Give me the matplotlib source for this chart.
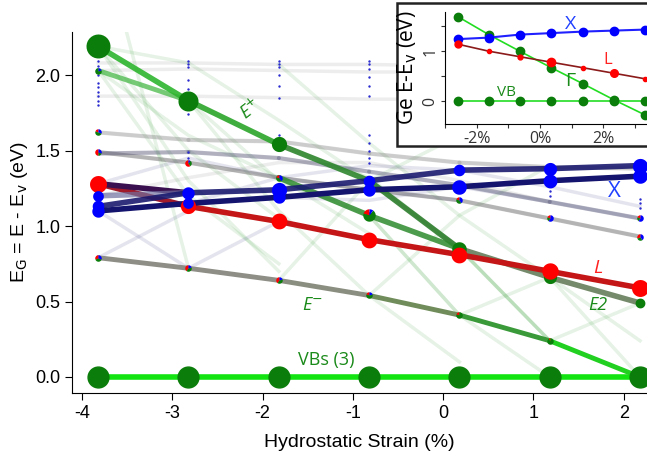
import numpy as np
import matplotlib.pyplot as plt
from matplotlib.patches import Rectangle

nan = np.nan

# strain columns (%)
strain = [-3.82, -2.82, -1.82, -0.82, 0.18, 1.18, 2.18]

# bold tracked bands (eV)
vb = [0, 0, 0, 0, 0, 0, 0]
e_plus = [2.19, 1.83, 1.54, 1.30, 0.85, 0.66, 0.49]
e_plus_b = [2.03, 1.83, nan, nan, nan, nan, nan]
e_two = [nan, nan, 1.32, 1.07, 0.85, nan, nan]
e_minus = [0.79, 0.72, 0.64, 0.54, 0.41, 0.24, 0.0]
l_band = [1.28, 1.13, 1.03, 0.91, 0.81, 0.70, 0.59]
x_low = [1.10, 1.15, 1.19, 1.24, 1.26, 1.30, 1.33]
x_high = [1.13, 1.22, 1.24, 1.30, 1.37, 1.38, 1.40]
x_mix = [1.28, 1.22, nan, nan, nan, nan, nan]
x_side = [1.20, 1.22, nan, nan, nan, nan, nan]

# faint connections
faint_green = [
    [2.19, 2.08, nan, nan, nan, nan, nan],
    [2.19, 1.50, 1.05, nan, nan, nan, nan],
    [2.19, 1.30, 0.70, nan, nan, nan, nan],
    [2.03, 1.60, 1.32, 0.95, nan, nan, nan],
    [2.03, 1.20, 0.75, nan, nan, nan, nan],
    [3.00, 0.72, nan, nan, nan, nan, nan],
    [nan, 2.08, 1.70, 1.30, 0.85, nan, nan],
    [nan, 1.83, 1.30, 1.07, 0.41, nan, nan],
    [nan, 1.83, 1.10, 0.54, 0.10, nan, nan],
    [nan, nan, 2.07, 1.55, 1.07, 0.66, 0.24],
    [nan, nan, 1.54, 1.32, 0.85, 0.24, 0.0],
    [nan, nan, 0.64, 1.30, 1.60, nan, nan],
    [nan, nan, nan, 1.30, 0.85, 0.24, 0.0],
    [nan, nan, nan, 1.07, 0.41, 0.0, nan],
    [nan, nan, nan, nan, 0.85, 0.24, nan],
    [nan, nan, nan, nan, 0.41, 0.66, nan],
    [nan, nan, nan, nan, nan, 0.24, 0.49],
    [nan, nan, nan, nan, nan, 0.66, 0.0],
    [nan, nan, nan, 0.54, 1.07, 1.40, nan],
]
faint_gray = [
    [2.08, 2.08, 2.07, 2.07, 2.06, 2.06, 2.06],
    [2.03, 2.04, 2.03, 2.02, 2.02, 2.01, 2.01],
    [1.86, 1.86, 1.85, 1.84, 1.84, 1.84, 1.84],
    [1.62, 1.57, 1.56, 1.48, 1.42, 1.39, 1.38],
    [1.49, 1.42, 1.32, 1.24, 1.17, 1.05, 0.93],
    [1.48, 1.49, 1.45, 1.36, 1.27, 1.16, 1.05],
    [1.20, 1.32, 1.42, 1.42, 1.30, 1.16, nan],
]
faint_blue = [
    [1.28, 1.45, 1.32, 1.24, 1.17, nan, nan],
    [nan, 1.15, 1.32, 1.40, 1.37, 1.26, 1.13],
    [nan, nan, 1.19, 1.17, 1.26, 1.16, 1.05],
    [0.79, 1.10, nan, nan, nan, nan, nan],
    [1.10, 0.72, 1.03, nan, nan, nan, nan],
]

# small blue dots (higher bands) per column
dot_col = [0] * 9 + [1] * 10 + [2] * 8 + [3] * 11 + [5] * 2 + [6] * 3
dot_val = [2.09, 2.06, 2.00, 1.95, 1.92, 1.89, 1.86, 1.83, 1.80,
           2.09, 2.07, 2.05, 1.97, 1.91, 1.86, 1.78, 1.74, 1.49, 1.45,
           2.09, 2.07, 2.05, 2.00, 1.93, 1.85, 1.60, 1.57,
           2.09, 2.07, 2.04, 1.99, 1.93, 1.86, 1.60, 1.55, 1.50, 1.45, 1.42,
           1.23, 1.20,
           1.18, 1.15, 1.12]

# mixed-character nodes: column, energy, (red, green, blue) weights
mix_col = [0, 0, 0, 1, 1, 2, 3, 4, 5, 6, 3, 2, 6, 0, 4, 5, 6, 3]
mix_val = [0.79, 1.49, 1.62, 0.72, 1.42, 0.64, 0.54, 0.41, 0.24, 0.49,
           1.07, 1.32, 0.93, 2.03, 1.17, 1.05, 1.05, 1.30]
mix_w = [(0.3, 0.4, 0.3), (0.5, 0.2, 0.3), (0.2, 0.5, 0.3), (0.4, 0.4, 0.2),
         (0.6, 0.3, 0.1), (0.4, 0.4, 0.2), (0.2, 0.6, 0.2), (0.2, 0.8, 0.0),
         (0.1, 0.9, 0.0), (0.35, 0.65, 0.0), (0.15, 0.75, 0.1), (0.2, 0.4, 0.4),
         (0.3, 0.3, 0.4), (0.0, 0.8, 0.2), (0.2, 0.4, 0.4), (0.2, 0.2, 0.6),
         (0.2, 0.2, 0.6), (0.0, 0.7, 0.3)]

# inset data (Ge)
in_strain = [-2.6, -1.62, -0.64, 0.36, 1.36, 2.34, 3.32]
in_gamma = [1.69, 1.33, 1.00, 0.67, 0.35, 0.03, -0.27]
in_x = [1.24, 1.27, 1.33, 1.36, 1.39, 1.41, 1.43]
in_l = [1.14, 1.00, 0.89, 0.78, 0.67, 0.56, 0.45]
in_vb = [0, 0, 0, 0, 0, 0, 0]

RED, GRN, BLU = '#ff0000', '#0a7d0a', '#0000ff'
ANNO = ['Open Sans', 'DejaVu Sans']


def pie(ax, x, y, w, s, z=6):
    start = 0.25
    for f, c in zip(w, (RED, GRN, BLU)):
        if f <= 0:
            continue
        th = 2 * np.pi * np.linspace(start, start + f, 30)
        v = np.column_stack([np.r_[0, np.cos(th)], np.r_[0, np.sin(th)]])
        m = np.abs(v).max()
        ax.scatter([x], [y], marker=v, s=s * m ** 2, c=c, lw=0, zorder=z)
        start += f


def seg_line(ax, xs, ys, colors, lw, alpha=1.0, z=3):
    for i in range(len(xs) - 1):
        if np.isnan(ys[i]) or np.isnan(ys[i + 1]):
            continue
        ax.plot(xs[i:i + 2], ys[i:i + 2], color=colors[i], lw=lw, alpha=alpha,
                solid_capstyle='round', zorder=z)


plt.rcParams['font.family'] = ['Liberation Sans', 'DejaVu Sans']
plt.rcParams['axes.unicode_minus'] = False
fig = plt.figure(figsize=(6.47, 4.54), dpi=100)
ax = fig.add_axes([72 / 647, 61 / 454, 575 / 647, 361 / 454])

for ys in faint_green:
    ax.plot(strain, ys, color='#3aa03a', lw=2.5, alpha=0.13, zorder=1)
for ys in faint_gray:
    ax.plot(strain, ys, color='#707070', lw=2.5, alpha=0.12, zorder=1)
for ys in faint_blue:
    ax.plot(strain, ys, color='#505090', lw=2.5, alpha=0.15, zorder=1)
seg_line(ax, strain, faint_gray[3], ['#808080'] * 6, 3, 0.3, 2)
seg_line(ax, strain, faint_gray[4], ['#606060'] * 6, 3, 0.4, 2)
seg_line(ax, strain, faint_gray[5], ['#55557a'] * 6, 3, 0.4, 2)

# bold bands
ax.plot(strain, vb, color='#11e411', lw=4, zorder=3)
seg_line(ax, strain, e_minus, ['#8e8e86', '#8e8e86', '#8a8e80', '#6f8c5a',
                               '#3a9a3a', '#22d022'], 3.5)
seg_line(ax, strain, e_plus_b, ['#3cb43c'], 3.5, 0.7)
seg_line(ax, strain, e_plus, ['#2db52d', '#2aa52a', '#2e862e', '#2e7e2e',
                              '#667d5a', '#667d5a'], 4, 0.9)
seg_line(ax, strain, e_two, ['#3a9a3a', '#2e8b2e', '#2e8b2e', '#2e8b2e'], 4, 0.85)
seg_line(ax, strain, l_band, ['#a01a2a'] + ['#c41616'] * 5, 4)
seg_line(ax, strain, x_mix, ['#3a1050'], 4)
seg_line(ax, strain, x_side, ['#7070a0'], 4, 0.7)
seg_line(ax, strain, x_low, ['#14146e'] * 6, 4)
seg_line(ax, strain, x_high, ['#1a1a70'] * 6, 4, 0.9)

# markers
ax.plot(strain, vb, 'o', color=GRN, ms=15, zorder=7)
for i, s in enumerate([300, 210, 120, 60, 110, 90, 50]):
    pie(ax, strain[i], e_plus[i], (0, 1, 0), s, 7)
for i, s in enumerate([150, 120, 130, 130, 130, 140, 150]):
    pie(ax, strain[i], l_band[i], (1, 0, 0), s, 8)
for i, s in enumerate([80, 60, 80, 80, 110, 100, 110]):
    pie(ax, strain[i], x_low[i], (0, 0, 1), s, 8)
for i, s in enumerate([70, 80, 120, 70, 70, 90, 120]):
    pie(ax, strain[i], x_high[i], (0, 0, 1), s, 8)
pie(ax, strain[0], x_side[0], (0, 0, 1), 60, 8)
pie(ax, strain[3], e_two[3], (0.2, 0.7, 0.1), 80, 7)
for c, v, w in zip(mix_col, mix_val, mix_w):
    pie(ax, strain[c], v, w, 22, 6)
ax.scatter([strain[c] for c in dot_col], dot_val, s=3, c='#2a2ad0', lw=0, zorder=5)

# annotations
ax.text(-2.14, 1.77, 'E$^{+}$', color='#1a8a1a', fontsize=13, rotation=38,
        ha='center', va='center', family=ANNO, style='italic')
ax.text(-1.45, 0.48, 'E$^{-}$', color='#1a8a1a', fontsize=13, ha='center',
        va='center', family=ANNO, style='italic')
ax.text(1.71, 0.72, 'L', color='#ff2020', fontsize=14, ha='center', va='center',
        family=ANNO, style='italic')
ax.text(1.90, 1.23, 'X', color='#2040ff', fontsize=16, ha='center', va='center',
        family=ANNO)
ax.text(1.71, 0.48, 'E2', color='#1a8a1a', fontsize=13, ha='center', va='center',
        family=ANNO, style='italic')
ax.text(-1.29, 0.11, 'VBs (3)', color='#1a8a1a', fontsize=13, ha='center',
        va='center', family=ANNO)

ax.set_xlim(-4.11, 2.257)
ax.set_ylim(-0.106, 2.285)
ax.set_xticks([-4, -3, -2, -1, 0, 1, 2])
ax.set_yticks([0, 0.5, 1.0, 1.5, 2.0])
ax.spines['top'].set_visible(False)
ax.spines['right'].set_visible(False)
ax.tick_params(direction='out', length=5, labelsize=13)
ax.set_xlabel('Hydrostatic Strain (%)', fontsize=14, labelpad=9)
ax.set_ylabel('E$_\\mathrm{G}$ = E - E$_\\mathrm{v}$ (eV)', fontsize=14)

# inset frame
fig.patches.append(Rectangle((397 / 647, (454 - 146) / 454), 260 / 647, 143 / 454,
                             transform=fig.transFigure, facecolor='white',
                             edgecolor='#222222', lw=1.8, zorder=1))
ai = fig.add_axes([445 / 647, (454 - 124) / 454, 202 / 647, 112 / 454])
ai.set_zorder(2)
ai.patch.set_alpha(0)
ai.plot(in_strain, in_vb, '-', color='#22dd22', lw=1.2)
ai.plot(in_strain, in_vb, 'o', color=GRN, ms=6)
ai.plot(in_strain, in_gamma, '-', color='#22dd22', lw=1.2)
ai.plot(in_strain, in_gamma, 'o', color=GRN, ms=6)
ai.plot(in_strain, in_x, '-', color='#2020ff', lw=1.5)
ai.plot(in_strain, in_x, 'o', color=BLU, ms=6)
ai.plot(in_strain, in_l, '-', color='#8b1a1a', lw=1.2)
for x, y, m in zip(in_strain, in_l, [5, 3, 3.5, 6, 3, 5.5, 3]):
    ai.plot(x, y, 'o', color=RED, ms=m)
ai.text(0.95, 1.55, 'X', color='#2040ff', fontsize=14, ha='center', va='center',
        family=ANNO)
ai.text(2.15, 0.82, 'L', color='#ff2020', fontsize=12, ha='center', va='center',
        family=ANNO)
ai.text(0.95, 0.40, 'Γ', color='#1a8a1a', fontsize=14, ha='center', va='center',
        family=ANNO)
ai.text(-1.05, 0.17, 'VB', color='#1a8a1a', fontsize=11, ha='center', va='center',
        family=ANNO)
ai.set_xlim(-2.95, 3.38)
ai.set_ylim(-0.45, 1.78)
ai.set_xticks([-3, -2, -1, 0, 1, 2, 3])
ai.set_xticklabels(['', '-2%', '', '0%', '', '2%', ''], family=ANNO)
ai.set_yticks([0, 0.5, 1, 1.5])
ai.set_yticklabels(['0', '', '1', ''], rotation=90, va='center', family=ANNO)
ai.spines['top'].set_visible(False)
ai.spines['right'].set_visible(False)
ai.tick_params(direction='out', length=3, labelsize=11.5, colors='#333333', pad=2)
ai.set_ylabel('Ge E-E$_\\mathrm{v}$ (eV)', fontsize=15, labelpad=2, family=ANNO)

fig.savefig('out.png', dpi=100)
